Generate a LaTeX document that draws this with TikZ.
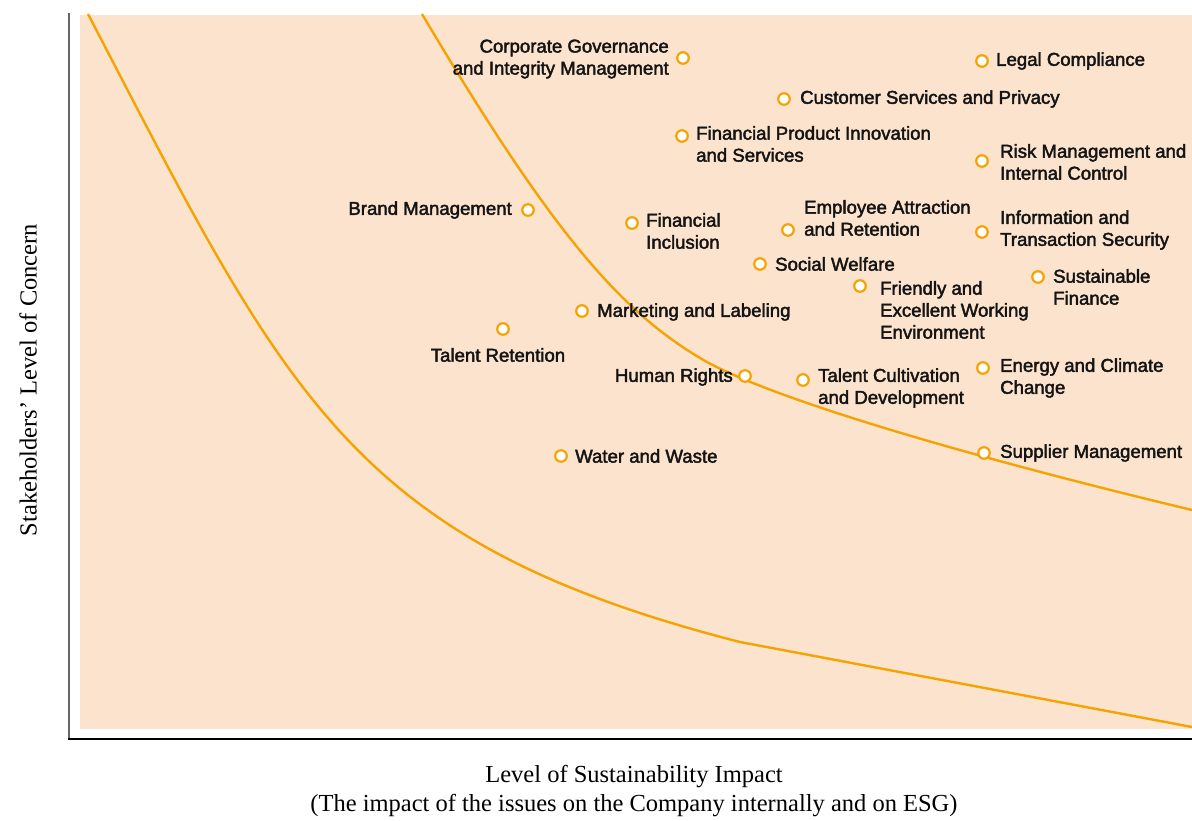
\documentclass[tikz,border=0pt]{standalone}
\usepackage{fontspec}
\setmainfont{Liberation Serif}
\newfontfamily\lblfont{Liberation Sans}[FakeBold=2.2]
\definecolor{chartorange}{HTML}{F5A300}
\definecolor{chartbg}{HTML}{FCE3CE}

\begin{document}
\begin{tikzpicture}[x = 1pt, y = -1pt,
        dot/.style = {circle, draw = chartorange, fill = white, line width = 2.2pt, minimum size = 11.5pt, inner sep = 0pt},
        lbl/.style = {inner sep = 0pt, text = black!92, font = \lblfont\fontsize{18.6}{22}\selectfont},
        band/.style = {draw = chartorange, line width = 2.4pt}]
        \useasboundingbox (0, 0) rectangle (1192, 820);
        \fill[chartbg] (80, 15) rectangle (1192, 729);
        \draw[black!60, line width = 2pt] (69, 13) -- (69, 739);
        \draw[black, line width = 2pt] (68, 738.5) -- (1192, 738.5);

        % materiality bands
        \draw[band] (88, 14) .. controls (288, 398) and (350, 542) .. (740, 642) -- (1192, 727);
        \draw[band] (422, 14) .. controls (552.5, 234) and (620, 310) .. (700, 358) .. controls (760, 394) and (942, 450) .. (1192, 510);

        % issues
        \node[dot] (gov) at (683, 58) {};
        \node[lbl, align = right] at (669, 59) [left] {Corporate Governance\\and Integrity Management};
        \node[dot] (legal) at (982, 61) {};
        \node[lbl] at (996, 61) [right] {Legal Compliance};
        \node[dot] (cust) at (784, 99) {};
        \node[lbl] at (800, 99) [right] {Customer Services and Privacy};
        \node[dot] (fpi) at (682, 136) {};
        \node[lbl, align = left] at (696, 144) [right] {Financial Product Innovation\\and Services};
        \node[dot] (risk) at (982, 161) {};
        \node[lbl, align = left] at (1000, 162) [right] {Risk Management and\\Internal Control};
        \node[dot] (brand) at (528, 210) {};
        \node[lbl] at (512, 210) [left] {Brand Management};
        \node[dot] (incl) at (632, 223) {};
        \node[lbl, align = left] at (646, 231) [right] {Financial\\Inclusion};
        \node[dot] (emp) at (788, 230) {};
        \node[lbl, align = left] at (804, 218) [right] {Employee Attraction\\and Retention};
        \node[dot] (info) at (982, 232) {};
        \node[lbl, align = left] at (1000, 230) [right] {Information and\\Transaction Security};
        \node[dot] (social) at (760, 264) {};
        \node[lbl] at (775, 264) [right] {Social Welfare};
        \node[dot] (sfin) at (1038, 277) {};
        \node[lbl, align = left] at (1053, 287) [right] {Sustainable\\Finance};
        \node[dot] (work) at (860, 286) {};
        \node[lbl, align = left] at (880, 310) [right] {Friendly and\\Excellent Working\\Environment};
        \node[dot] (mkt) at (582, 311) {};
        \node[lbl] at (597, 312) [right] {Marketing and Labeling};
        \node[dot] (tret) at (503, 329) {};
        \node[lbl] at (498, 355) {Talent Retention};
        \node[dot] (energy) at (983, 368) {};
        \node[lbl, align = left] at (1000, 378) [right] {Energy and Climate\\Change};
        \node[dot] (human) at (745, 376) {};
        \node[lbl] at (733, 377) [left] {Human Rights};
        \node[dot] (tcult) at (803, 380) {};
        \node[lbl, align = left] at (818, 388) [right] {Talent Cultivation\\and Development};
        \node[dot] (supp) at (984, 453) {};
        \node[lbl] at (1000, 453) [right] {Supplier Management};
        \node[dot] (water) at (561, 456) {};
        \node[lbl] at (575, 456) [right] {Water and Waste};

        % axes
        \node (xlab) at (634, 791) [align = center, font = \fontsize{24.5}{29}\selectfont] {Level of Sustainability Impact\\(The impact of the issues on the Company internally and on ESG)};
        \node (ylab) at (28, 380) [rotate = 90, font = \fontsize{24.5}{29}\selectfont] {Stakeholders’ Level of Concern};
    \end{tikzpicture}
\end{document}
